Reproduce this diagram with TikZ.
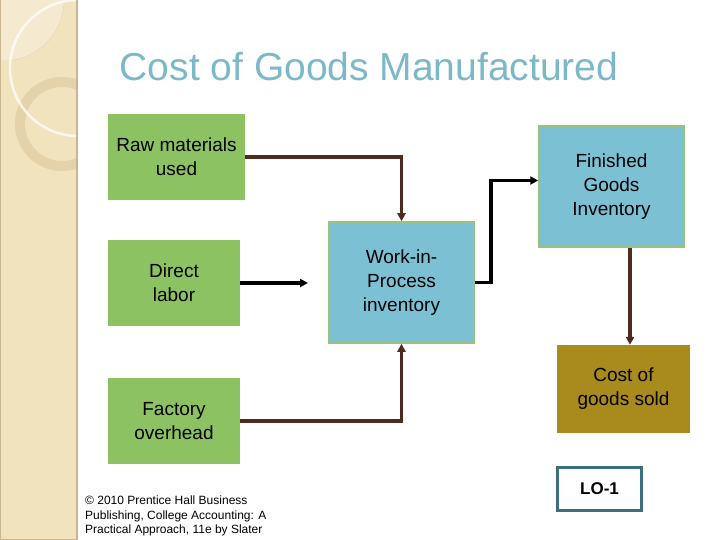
\documentclass[tikz,border=0pt]{standalone}
\usepackage{fontspec}
\setmainfont{Liberation Sans}
\usetikzlibrary{arrows.meta,calc}
\definecolor{sidebar}{HTML}{F2E3BF}
\definecolor{sideedge}{HTML}{C9B68E}
\definecolor{palefill}{HTML}{F5EAD0}
\definecolor{ringcol}{HTML}{E3D2AA}
\definecolor{titlecol}{HTML}{7CB9C8}
\definecolor{greenbox}{HTML}{8DC263}
\definecolor{bluebox}{HTML}{7CC1D3}
\definecolor{blueedge}{HTML}{9BC27A}
\definecolor{goldbox}{HTML}{A98A1C}
\definecolor{brownline}{HTML}{4E2A1F}
\definecolor{loedge}{HTML}{3D6E7C}
\tikzset{
  box/.style={inner sep=0pt, align=center, font=\fontsize{19}{24}\selectfont, text=black},
  greenb/.style={box, fill=greenbox},
  blueb/.style={box, fill=bluebox, draw=blueedge, line width=1.5pt},
  goldb/.style={box, fill=goldbox},
  brownarrow/.style={draw=brownline, line width=3.5pt, -{Triangle[length=8pt,width=8pt]}},
  blackarrow/.style={draw=black, line width=3.5pt, -{Triangle[length=8pt,width=8pt]}},
}
\begin{document}
\begin{tikzpicture}[x=1pt,y=-1pt]
\useasboundingbox (0,0) rectangle (720,540);
\fill[white] (0,0) rectangle (720,540);
% sidebar
\begin{scope}
\clip (0,0) rectangle (77,540);
\fill[sidebar] (0,0) rectangle (77,540);
\fill[palefill] (3,0) circle [radius=61pt];
\draw[sideedge!60, line width=0.4pt] (3,0) circle [radius=61pt];
\draw[ringcol, line width=10pt] (62,124) circle [radius=42pt];
\draw[white, opacity=0.75, line width=2.5pt] (78,68) circle [radius=68pt];
\end{scope}
\draw[sideedge, line width=2pt] (77,0) -- (77,540);
\draw[sideedge, line width=1pt] (0.5,0) -- (0.5,539.5) -- (77,539.5);
% title
\node[anchor=base, text=titlecol, font=\fontsize{39}{46}\selectfont, inner sep=0pt] (title) at (369,81) {Cost of Goods Manufactured};
% boxes
\node[greenb, minimum width=137pt, minimum height=86pt] (raw) at (176.5,157) {Raw materials\\used};
\node[greenb, minimum width=132pt, minimum height=86pt] (dl) at (174,283) {Direct\\labor};
\node[greenb, minimum width=132pt, minimum height=86pt] (fo) at (174,421) {Factory\\overhead};
\node[blueb, minimum width=145pt, minimum height=121pt] (wip) at (401.5,282.5) {Work-in-\\Process\\inventory};
\node[blueb, minimum width=145pt, minimum height=121pt] (fg) at (611.5,186.5) {Finished\\Goods\\Inventory};
\node[goldb, minimum width=133pt, minimum height=88pt] (cogs) at (623.5,389) {Cost of\\goods sold};
\node[box, draw=loedge, line width=2.5pt, fill=white, minimum width=84pt, minimum height=43pt, font=\fontsize{17}{19}\selectfont\bfseries] (lo) at (599.5,489) {LO-1};
% footer
\node[anchor=north west, inner sep=0pt, align=left, font=\fontsize{12}{14.5}\selectfont] (foot) at (85,496) {\textcopyright{} 2010 Prentice Hall Business\\Publishing, College Accounting: A\\Practical Approach, 11e by Slater};
% connectors
\coordinate (dlend) at (308,283);
\draw[brownarrow] (raw.east) -| (wip.north);
\draw[brownarrow] (fo.east) -| (wip.south);
\draw[blackarrow] (dl.east) -- (dlend);
\draw[blackarrow] (wip.east) -- ++(16,0) |- ([yshift=6pt]fg.west);
\draw[brownarrow] ([xshift=18.5pt]fg.south) -- ([xshift=6.5pt]cogs.north);
\end{tikzpicture}
\end{document}
